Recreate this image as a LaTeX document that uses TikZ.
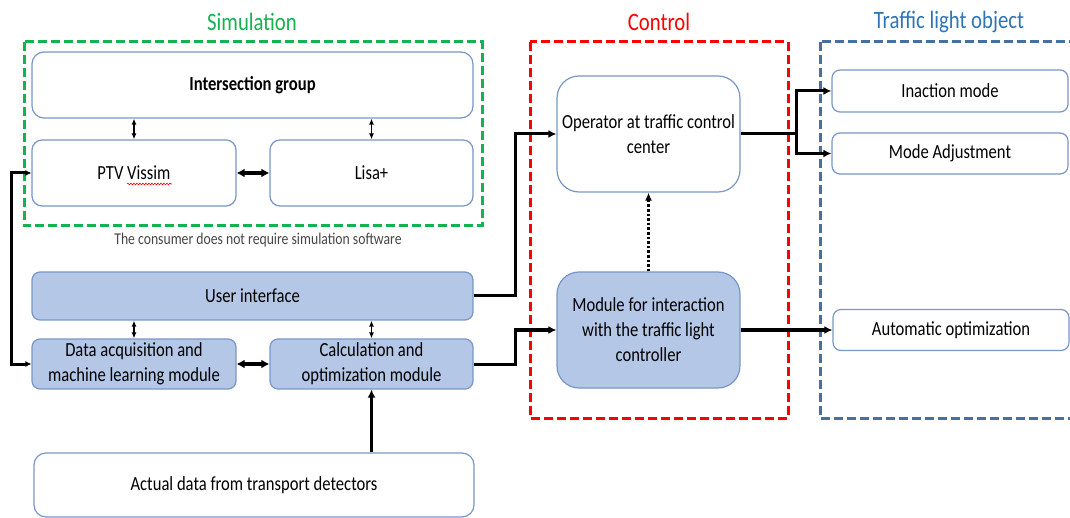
\documentclass[tikz,border=0pt]{standalone}
\usepackage{fontspec}
\setmainfont{Carlito}[FakeStretch=0.83]
\usetikzlibrary{arrows.meta,decorations.pathmorphing}
\definecolor{simgreen}{RGB}{20,178,80}
\definecolor{ctrlred}{RGB}{255,0,0}
\definecolor{tlblue}{RGB}{46,117,182}
\definecolor{tlframe}{RGB}{70,112,160}
\definecolor{boxline}{RGB}{120,150,200}
\definecolor{boxfill}{RGB}{180,199,231}
\definecolor{captiongray}{RGB}{70,70,70}
\tikzset{
  x=1pt, y=-1pt,
  every node/.style={font=\fontsize{20}{25}\selectfont, align=center, inner sep=2pt},
  box/.style={draw=boxline, line width=1.2pt, fill=white, rounded corners=10pt},
  fbox/.style={box, fill=boxfill},
  frame/.style={dash pattern=on 9pt off 4pt, line width=3pt},
  conn/.style={line width=3pt, -{Latex[length=8pt,width=8pt]}},
  conn2/.style={line width=3pt, {Latex[length=6pt,width=6pt]}-{Latex[length=6pt,width=6pt]}},
  small/.style={line width=1.3pt, {Latex[length=6pt,width=5pt]}-{Latex[length=6pt,width=5pt]}},
  thick2/.style={line width=3.5pt, {Latex[length=8pt,width=9pt]}-{Latex[length=8pt,width=9pt]}},
  title/.style={font=\fontsize{25}{30}\selectfont}
}
\begin{document}
\begin{tikzpicture}
\useasboundingbox (0,0) rectangle (1070,518);
\begin{scope}
\clip (0,0) rectangle (1070,518);
% frames
\draw[frame, simgreen] (24,42) rectangle (482,226);
\draw[frame, ctrlred] (530,42) rectangle (788,418);
\draw[frame, tlframe] (820,42) rectangle (1080,418);
% titles
\node[title, text=simgreen] (tsim) at (252,22) {Simulation};
\node[title, text=ctrlred] (tctrl) at (659,22) {Control};
\node[title, text=tlblue] (ttl) at (949,22) {Traffic light object};
\node[text=captiongray, font=\fontsize{16.5}{20}\selectfont] (cap) at (258,240) {The consumer does not require simulation software};
% simulation boxes
\node[box, rounded corners=12pt, minimum width=441pt, minimum height=66pt] (ig) at (252.5,85) {\textbf{Intersection group}};
\node[box, minimum width=204pt, minimum height=66pt] (ptv) at (134,173) {PTV Vissim};
\node[box, minimum width=203pt, minimum height=66pt] (lisa) at (371.5,173) {Lisa+};
\draw[red, line width=0.6pt, decorate, decoration={snake, amplitude=0.9pt, segment length=3pt}] (127,184) -- (172,184);
% blue modules
\node[fbox, rounded corners=8pt, minimum width=441pt, minimum height=48pt] (ui) at (252.5,296) {User interface};
\node[fbox, rounded corners=8pt, minimum width=204pt, minimum height=50pt] (daq) at (134,364) {Data acquisition and\\machine learning module};
\node[fbox, rounded corners=8pt, minimum width=203pt, minimum height=50pt] (calc) at (371.5,364) {Calculation and\\optimization module};
\node[box, rounded corners=12pt, minimum width=440pt, minimum height=64pt] (act) at (254,485) {Actual data from transport detectors};
% control
\node[box, rounded corners=22pt, minimum width=183pt, minimum height=116pt] (op) at (648.5,134) {Operator at traffic control\\center};
\node[fbox, rounded corners=22pt, minimum width=183pt, minimum height=116pt] (mod) at (648.5,330) {Module for interaction\\with the traffic light\\controller};
% traffic light object
\node[box, rounded corners=8pt, minimum width=236pt, minimum height=42pt] (inact) at (950,91) {Inaction mode};
\node[box, rounded corners=8pt, minimum width=236pt, minimum height=41pt] (madj) at (950,153.5) {Mode Adjustment};
\node[box, rounded corners=8pt, minimum width=236pt, minimum height=41pt] (auto) at (951,330) {Automatic optimization};
% connectors
\draw[small] (ptv.north) -- (ptv.north |- ig.south);
\draw[small] (lisa.north) -- (lisa.north |- ig.south);
\draw[thick2] (ptv.east) -- (lisa.west);
\draw[small] (daq.north) -- (daq.north |- ui.south);
\draw[small] (calc.north) -- (calc.north |- ui.south);
\draw[thick2] (daq.east) -- (calc.west);
\draw[conn] (calc.south |- act.north) -- (calc.south);
\draw[conn2] (daq.west) -- ++(-20,0) |- (ptv.west);
\draw[conn] (ui.east) -- ++(42,0) |- (op.west);
\draw[conn] (calc.east) -- ++(42,0) |- (mod.west);
\draw[line width=2.6pt, dotted, -{Latex[length=8pt,width=7pt]}] (mod.north) -- (op.south);
\draw[line width=3pt] (op.east) -- ++(56,0) coordinate (br);
\draw[conn] (br) |- (inact.west);
\draw[conn] (br) |- (madj.west);
\draw[conn] (mod.east) -- (auto.west);
\end{scope}
\end{tikzpicture}
\end{document}
